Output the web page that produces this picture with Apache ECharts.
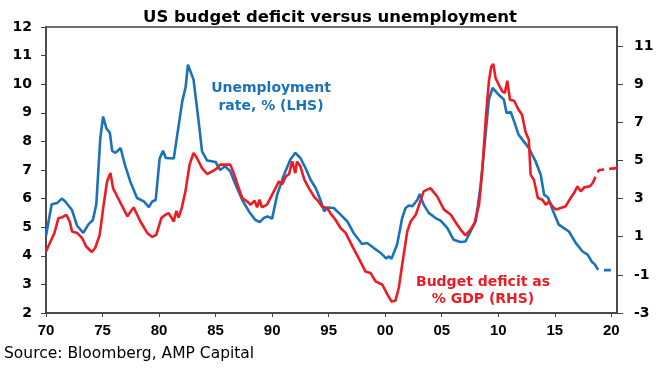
<!DOCTYPE html>
<html>
<head>
<meta charset="utf-8">
<script src="https://cdn.jsdelivr.net/npm/echarts@6/dist/echarts.min.js"></script>
<style>
html,body{margin:0;padding:0;background:#fff;}
#chart{width:660px;height:372px;}
</style>
</head>
<body>
<div id="chart"></div>
<script>
// Unemployment rate, % (LHS)
const unempYears = [1970.0,1970.5,1971.0,1971.4,1971.7,1972.3,1972.75,1973.3,1973.75,1974.15,1974.45,1974.8,1975.05,1975.35,1975.65,1975.85,1976.15,1976.6,1977.0,1977.45,1978.05,1978.65,1979.1,1979.4,1979.7,1980.05,1980.35,1980.6,1981.3,1981.6,1982.05,1982.35,1982.55,1983.05,1983.5,1983.8,1984.25,1985.0,1985.4,1985.85,1986.3,1986.75,1987.35,1987.95,1988.5,1988.9,1989.25,1989.6,1990.0,1990.45,1991.0,1991.6,1992.05,1992.5,1992.95,1993.4,1993.85,1994.27,1994.6,1994.9,1995.45,1996.05,1996.65,1997.2,1997.95,1998.4,1999.0,1999.6,2000.1,2000.3,2000.55,2001.05,2001.5,2001.8,2002.1,2002.4,2002.85,2003.05,2003.4,2003.85,2004.45,2004.9,2005.5,2006.05,2006.65,2007.1,2007.55,2008.0,2008.45,2008.9,2009.17,2009.5,2009.9,2010.2,2010.5,2010.73,2011.1,2011.4,2011.8,2012.25,2012.7,2013.3,2013.75,2014.05,2014.4,2014.8,2015.35,2015.8,2016.25,2016.85,2017.45,2017.9,2018.3,2018.5];
const unempValues = [4.7,5.8,5.85,6.0,5.9,5.6,5.05,4.8,5.1,5.25,5.8,8.1,8.87,8.45,8.3,7.67,7.6,7.77,7.15,6.6,6.02,5.9,5.7,5.9,5.95,7.4,7.67,7.42,7.4,8.2,9.4,9.9,10.68,10.16,8.7,7.65,7.33,7.28,7.0,7.13,6.95,6.5,5.96,5.55,5.26,5.18,5.32,5.38,5.3,6.14,6.78,7.36,7.6,7.42,7.07,6.66,6.37,5.96,5.55,5.69,5.67,5.44,5.2,4.8,4.41,4.45,4.27,4.1,3.9,3.98,3.9,4.39,5.32,5.67,5.76,5.73,5.96,6.16,5.79,5.5,5.32,5.23,4.97,4.56,4.48,4.5,4.85,5.2,6.49,8.35,9.46,9.87,9.69,9.57,9.46,8.99,9.03,8.7,8.23,8.0,7.77,7.3,6.84,6.14,6.04,5.61,5.09,4.97,4.85,4.45,4.15,4.04,3.78,3.72];
const unempFcstYears = [2018.5,2018.85,2020.5];
const unempFcstValues = [3.72,3.5,3.5];

// Budget deficit as % GDP (RHS)
const deficitYears = [1970.0,1970.4,1970.75,1971.1,1971.4,1971.8,1972.1,1972.3,1972.75,1973.2,1973.55,1974.05,1974.35,1974.75,1975.1,1975.4,1975.7,1975.93,1976.3,1976.75,1977.2,1977.75,1978.35,1978.95,1979.4,1979.75,1980.2,1980.55,1980.85,1981.3,1981.53,1981.73,1982.0,1982.33,1982.7,1983.05,1983.35,1983.8,1984.25,1984.7,1985.1,1985.4,1986.3,1986.6,1987.05,1987.35,1987.8,1988.1,1988.45,1988.67,1988.88,1989.1,1989.55,1990.15,1990.6,1990.9,1991.2,1991.5,1991.77,1992.05,1992.2,1992.5,1992.85,1993.25,1993.7,1994.1,1994.4,1994.85,1995.2,1995.6,1996.05,1996.5,1997.1,1997.65,1998.25,1998.7,1999.15,1999.75,2000.2,2000.55,2000.9,2001.2,2001.5,2001.95,2002.25,2002.7,2003.1,2003.4,2004.0,2004.6,2005.2,2005.8,2006.4,2006.7,2007.1,2007.55,2007.9,2008.3,2008.6,2008.9,2009.17,2009.38,2009.56,2009.76,2010.05,2010.35,2010.58,2010.8,2011.03,2011.4,2011.8,2012.1,2012.4,2012.7,2012.86,2013.15,2013.5,2013.9,2014.2,2014.5,2014.8,2015.1,2015.5,2015.95,2016.4,2016.7,2017.0,2017.3,2017.6,2018.05,2018.3];
const deficitValues = [0.23,0.75,1.2,1.98,2.01,2.15,1.8,1.28,1.2,0.93,0.49,0.2,0.41,1.1,2.68,3.9,4.34,3.55,3.11,2.59,2.07,2.54,1.8,1.2,0.99,1.1,1.98,2.15,2.24,1.8,2.36,2.01,2.5,3.38,4.78,5.39,5.13,4.6,4.29,4.43,4.57,4.78,4.78,4.34,3.55,3.03,2.85,2.68,2.89,2.54,2.94,2.54,2.68,3.38,3.9,3.76,4.16,4.29,4.95,4.34,4.95,4.69,3.99,3.55,3.11,2.85,2.59,2.51,2.2,1.89,1.46,1.2,0.49,-0.12,-0.82,-0.9,-1.34,-1.52,-2.04,-2.39,-2.36,-1.69,-0.47,1.28,1.8,2.15,2.85,3.38,3.55,3.11,2.42,2.15,1.6,1.35,1.07,1.37,1.72,2.68,4.6,7.23,9.15,9.93,10.06,9.32,8.97,8.62,8.54,9.18,8.18,8.13,7.66,7.4,6.52,6.09,4.25,3.99,3.03,2.94,2.68,2.85,2.59,2.42,2.51,2.59,3.03,3.29,3.64,3.38,3.59,3.64,3.76];
const deficitFcstYears = [2018.3,2018.9,2020.5];
const deficitFcstValues = [3.76,4.5,4.6];

// Tick labels
const rightTicks = [-3,-1,1,3,5,7,9,11];

const zip = (xs, ys) => xs.map((x, i) => [x, ys[i]]);

const BLUE = '#1a72bb';
const RED = '#ec1c24';
const AXIS = '#404040';

const chart = echarts.init(document.getElementById('chart'), null, {renderer: 'canvas'});
chart.setOption({
  animation: false,
  backgroundColor: '#ffffff',
  title: {
    text: 'US budget deficit versus unemployment',
    left: 'center',
    top: 4,
    textStyle: {fontFamily: 'DejaVu Sans', fontWeight: 'bold', fontSize: 16.5, color: '#000'}
  },
  grid: {left: 46, right: 43, top: 27, bottom: 59, show: true, borderColor: AXIS, borderWidth: 1.5, backgroundColor: 'transparent'},
  xAxis: {
    type: 'value', min: 1970, max: 2020.5, interval: 5,
    axisLine: {show: true, onZero: false, lineStyle: {color: AXIS, width: 1.5}},
    axisTick: {show: true, length: 4, lineStyle: {color: AXIS, width: 1}},
    splitLine: {show: false},
    axisLabel: {
      margin: 10, color: '#000', fontFamily: 'Liberation Sans', fontWeight: 'bold', fontSize: 15,
      showMaxLabel: false,
      formatter: v => (v % 5 === 0 ? String(v % 100).padStart(2, '0') : '')
    }
  },
  yAxis: [
    {
      type: 'value', min: 2, max: 12, interval: 1, position: 'left',
      axisLine: {show: true, onZero: false, lineStyle: {color: AXIS, width: 1.5}},
      axisTick: {show: true, length: 5, lineStyle: {color: AXIS, width: 1}},
      splitLine: {show: false},
      axisLabel: {margin: 14, color: '#000', fontFamily: 'DejaVu Sans', fontWeight: 'bold', fontSize: 14}
    },
    {
      type: 'value', min: -3, max: 12, position: 'right',
      axisLine: {show: true, onZero: false, lineStyle: {color: AXIS, width: 1.5}},
      axisTick: {show: true, length: 6, customValues: rightTicks, lineStyle: {color: AXIS, width: 1}},
      splitLine: {show: false},
      axisLabel: {margin: 17, color: '#000', fontFamily: 'DejaVu Sans', fontWeight: 'bold', fontSize: 14, customValues: rightTicks}
    }
  ],
  series: [
    {
      name: 'Unemployment rate, % (LHS)', type: 'line', yAxisIndex: 0, showSymbol: false,
      data: zip(unempYears, unempValues), lineStyle: {color: BLUE, width: 2.6}, itemStyle: {color: BLUE}, z: 2
    },
    {
      name: 'Unemployment forecast', type: 'line', yAxisIndex: 0, showSymbol: false,
      data: zip(unempFcstYears, unempFcstValues), lineStyle: {color: BLUE, width: 2.6, type: [7, 6]}, itemStyle: {color: BLUE}, z: 2
    },
    {
      name: 'Budget deficit as % GDP (RHS)', type: 'line', yAxisIndex: 1, showSymbol: false,
      data: zip(deficitYears, deficitValues), lineStyle: {color: RED, width: 2.6}, itemStyle: {color: RED}, z: 3
    },
    {
      name: 'Deficit forecast', type: 'line', yAxisIndex: 1, showSymbol: false,
      data: zip(deficitFcstYears, deficitFcstValues), lineStyle: {color: RED, width: 2.6, type: [8, 5]}, itemStyle: {color: RED}, z: 3
    }
  ],
  graphic: [
    {type: 'text', x: 271, y: 79, z: 10, style: {text: 'Unemployment\nrate, % (LHS)', fill: BLUE, font: 'bold 14px "DejaVu Sans"', align: 'center', textAlign: 'center', lineHeight: 18}},
    {type: 'text', x: 483, y: 274, z: 10, style: {text: 'Budget deficit as\n% GDP (RHS)', fill: RED, font: 'bold 14px "DejaVu Sans"', align: 'center', textAlign: 'center', lineHeight: 17}},
    {type: 'text', x: 4, y: 346, style: {text: 'Source: Bloomberg, AMP Capital', fill: '#000', font: '15.5px "DejaVu Sans"'}}
  ]
});
</script>
</body>
</html>
